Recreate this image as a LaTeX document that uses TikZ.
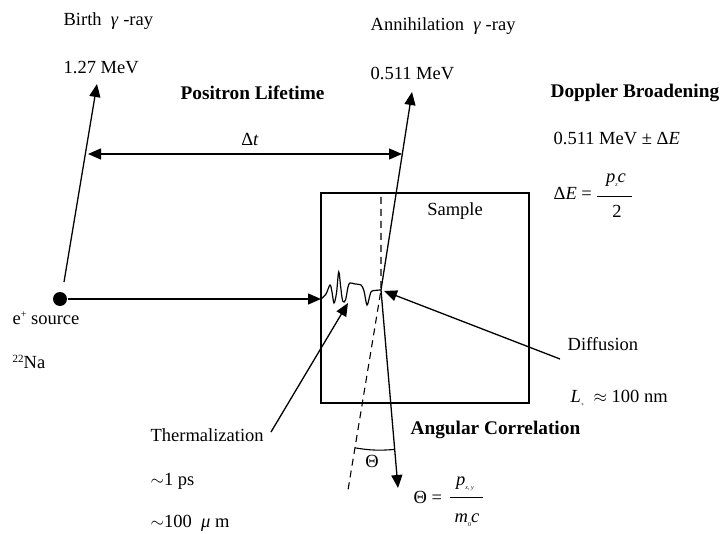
\documentclass[tikz,border=0pt]{standalone}
\usepackage{fontspec}
\setmainfont{Liberation Serif}
\usetikzlibrary{arrows.meta}
\newcommand{\tinysub}[1]{\raisebox{-4pt}{\fontsize{6}{6}\selectfont #1}}
\newcommand{\bfbig}[1]{{\fontsize{19.3}{22}\selectfont\textbf{#1}}}
\begin{document}
\begin{tikzpicture}[x=1pt,y=-1pt,
  font=\fontsize{18.5}{22}\selectfont,
  line width=1.3pt,
  >={Triangle[length=13pt,width=11pt]},
  lbl/.style={anchor=west, inner sep=0pt},
  ctr/.style={inner sep=0pt},
  fracbar/.style={line width=0.8pt},
  dashline/.style={dashed, dash pattern=on 7pt off 5pt, line width=1.1pt}]
\useasboundingbox (0,0) rectangle (720,534);

% sample box and source
\node[draw, anchor=north west, minimum width=208pt, minimum height=210pt, inner sep=0pt, outer sep=0pt] (box) at (321,193) {};
\node[ctr] (sample) at (455,211) {Sample};
\node[circle, fill, inner sep=0pt, minimum size=14pt] (src) at (60,299) {};

% key points
\coordinate (ann) at (381,290);
\coordinate (btail) at (64,282);
\coordinate (btip) at (97,84);
\coordinate (uptip) at (412,92);
\coordinate (dntip) at (398,488);
\coordinate (dashtop) at (381,197);
\coordinate (dashbot) at (348,490);
\coordinate (dtl) at (88,154);
\coordinate (dtr) at (402,154);
\coordinate (thtip) at (348,303);
\coordinate (thtail) at (271,432);
\coordinate (dftip) at (384,291);
\coordinate (dftail) at (560,359);

% texts
\node[lbl] (birth) at (63,21) {Birth\ \ \textit{γ} -ray};
\node[lbl] (e127) at (63,68) {1.27 MeV};
\node[lbl] (plt) at (180,93) {\bfbig{Positron Lifetime}};
\node[ctr] (dt) at (250,139) {Δ\textit{t}};
\node[lbl] (annl) at (370,26) {Annihilation\ \ \textit{γ} -ray};
\node[lbl] (e511) at (370,73) {0.511 MeV};
\node[lbl] (dop) at (550,93) {\bfbig{Doppler Broadening}};
\node[lbl] (dpm) at (553,138) {0.511 MeV ± Δ\textit{E}};
% Delta E = p_z c / 2
\node[lbl] (dEq) at (553,193) {Δ\textit{E} =};
\node[ctr] (dEnum) at (616,180) {\textit{p}\tinysub{\textit{z}}\textit{c}};
\node[ctr] (dEden) at (617,211) {2};
\draw[fracbar] (597,196) -- (632,196);
\node[lbl] (esrc) at (12,318) {e\raisebox{7pt}{\fontsize{10}{10}\selectfont +} source};
\node[lbl] (na) at (12,362) {\raisebox{6pt}{\fontsize{11}{11}\selectfont 22}Na};
\node[lbl] (therm) at (150,435) {Thermalization};
\node[lbl] (ps) at (150,481) {$\sim$1 ps};
\node[lbl] (um) at (150,523) {$\sim$100 \ \textit{μ} m};
\node[lbl] (diff) at (567,344) {Diffusion};
\node[lbl] (lp) at (570,398) {\textit{L}\tinysub{+}\ \ $\approx$ 100 nm};
\node[lbl] (ang) at (410,430) {\bfbig{Angular Correlation}};
\node[ctr] (thl) at (372,461) {Θ};
% Theta = p_{x,y} / m_0 c
\node[lbl] (theq) at (413,497) {Θ =};
\node[ctr] (thnum) at (465,484) {\textit{p}\tinysub{\textit{x}, \textit{y}}};
\node[ctr] (thden) at (467,520) {\textit{m}\tinysub{0}\textit{c}};
\draw[fracbar] (450,497) -- (483,497);

% connectors
\draw[->] (src) -- (src -| box.west);
\draw[->] (btail) -- (btip);
\draw[<->] (dtl) -- (dtr);
\draw[->] (ann) -- (uptip);
\draw[->] (ann) -- (dntip);
\draw[dashline] (dashtop) -- (ann) -- (dashbot);
\draw[->] (thtail) -- (thtip);
\draw[->] (dftail) -- (dftip);

% wavy positron track
\draw[line width=1.2pt] plot[smooth, tension=0.55] coordinates {
 (321,299) (326,294) (330,285) (332,292) (334,303) (336.5,293) (338.7,272)
 (340.7,287) (342.7,301) (345.5,300) (348,287) (350,283) (355,284) (361,285)
 (364,291) (367,305) (370,295) (372,291) (381,290)};

% angle arc
\path (ann) ++(260.7:160pt) coordinate (arcA);
\path (ann) ++(274.9:160pt) coordinate (arcB);
\draw[line width=1.1pt] (arcA) to[bend right=7] (arcB);
\end{tikzpicture}
\end{document}
